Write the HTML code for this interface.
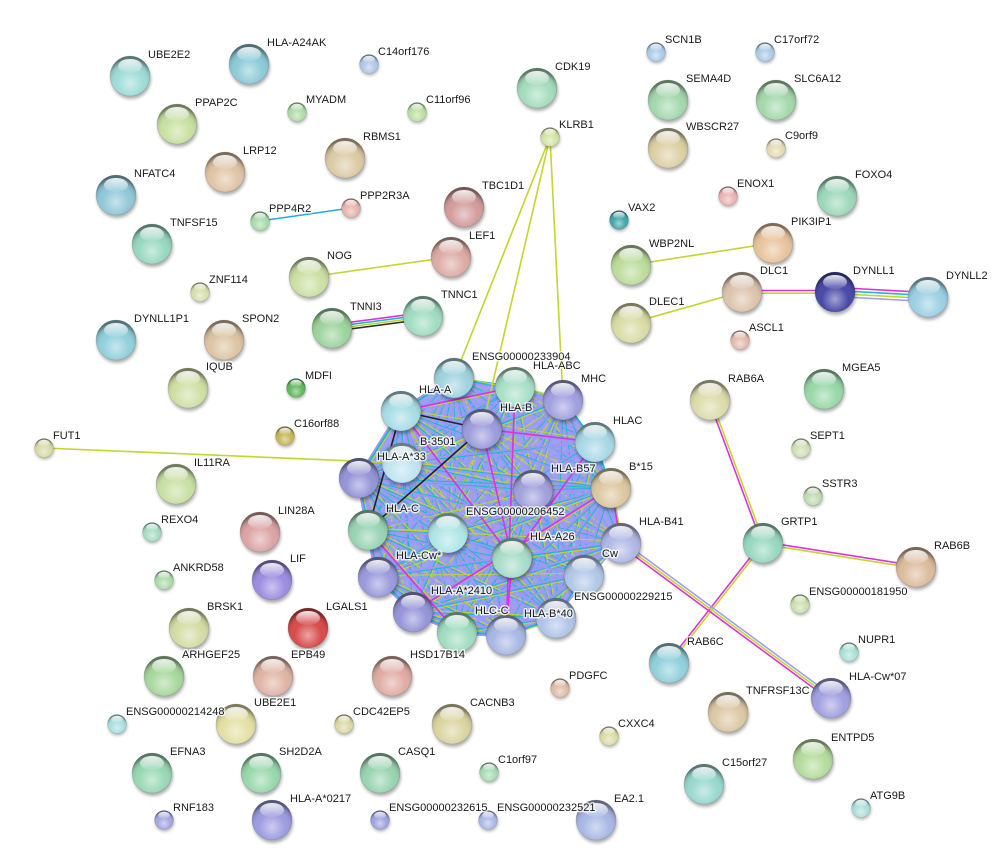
<!DOCTYPE html>
<html><head><meta charset="utf-8"><style>
html,body{margin:0;padding:0;background:#fff;}
svg{display:block;}
text{font-family:"Liberation Sans",Arial,sans-serif;font-size:11px;fill:#1a1a1a;stroke:#fff;stroke-width:3px;stroke-opacity:0.75;paint-order:stroke;stroke-linejoin:round;}
.e line{stroke-width:1.6;}
</style></head><body>
<svg width="998" height="865" viewBox="0 0 998 865" xmlns="http://www.w3.org/2000/svg" xmlns:xlink="http://www.w3.org/1999/xlink">
<defs>
<radialGradient id="shade" cx="0.5" cy="0.68" r="0.62">
<stop offset="0" stop-color="#fff" stop-opacity="0.5"/>
<stop offset="0.55" stop-color="#fff" stop-opacity="0"/>
<stop offset="0.85" stop-color="#000" stop-opacity="0.12"/>
<stop offset="1" stop-color="#000" stop-opacity="0.45"/>
</radialGradient>
<linearGradient id="hl" x1="0" y1="0" x2="0" y2="1">
<stop offset="0" stop-color="#fff" stop-opacity="0.9"/>
<stop offset="1" stop-color="#fff" stop-opacity="0.08"/>
</linearGradient>
<filter id="bl" x="-50%" y="-50%" width="200%" height="200%"><feGaussianBlur stdDeviation="1.5"/></filter>
<g id="shL"><circle cx="1" cy="3" r="20" fill="#000" opacity="0.32" filter="url(#bl)"/></g>
<g id="ovL"><circle r="20" fill="url(#shade)" stroke="#000" stroke-opacity="0.12" stroke-width="0.8"/><ellipse cy="-10" rx="12" ry="7" fill="url(#hl)"/></g>
<g id="shS"><circle cx="0.6" cy="2" r="9.5" fill="#000" opacity="0.3" filter="url(#bl)"/></g>
<g id="ovS"><circle r="9.5" fill="url(#shade)" stroke="#000" stroke-opacity="0.12" stroke-width="0.6"/><ellipse cy="-4.8" rx="5.8" ry="3.4" fill="url(#hl)"/></g>
</defs>
<rect width="998" height="865" fill="#fff"/>

<!-- cluster fallback fill -->
<polygon points="454,378 515,387 563,400 595,442 611,488 621,543 584,575 556,618 506,635 457,632 413,612 378,577 368,530 359,478 401,411" fill="#9ea2ec" stroke="#22b5d3" stroke-width="2"/>
<g id="mesh"></g>

<!-- outside edges -->
<g class="e">
<line x1="260" y1="221" x2="351" y2="208" stroke="#22b0d6"/>
<line x1="309" y1="277" x2="451" y2="257" stroke="#c4d52b"/>
<line x1="331.6" y1="324.7" x2="422.6" y2="312.7" stroke="#e030e0"/>
<line x1="331.9" y1="326.9" x2="422.9" y2="314.9" stroke="#22b5d3"/>
<line x1="332.1" y1="329.1" x2="423.1" y2="317.1" stroke="#c4d52b"/>
<line x1="332.4" y1="331.3" x2="423.4" y2="319.3" stroke="#333"/>
<line x1="550" y1="137" x2="454" y2="378" stroke="#c4d52b"/>
<line x1="550" y1="137" x2="482" y2="429" stroke="#c4d52b"/>
<line x1="550" y1="137" x2="563" y2="400" stroke="#c4d52b"/>
<line x1="44" y1="448" x2="402" y2="463" stroke="#c4d52b"/>
<line x1="631" y1="265" x2="773" y2="243" stroke="#c4d52b"/>
<line x1="631" y1="323" x2="741" y2="292" stroke="#c4d52b"/>
<line x1="741" y1="290.5" x2="835" y2="290.5" stroke="#e030e0"/>
<line x1="741" y1="293.2" x2="835" y2="293.2" stroke="#c4d52b"/>
<line x1="835" y1="287.5" x2="928" y2="292.5" stroke="#e030e0"/>
<line x1="835" y1="290.5" x2="928" y2="295.5" stroke="#22b5d3"/>
<line x1="835" y1="293.5" x2="928" y2="298.5" stroke="#c4d52b"/>
<line x1="835" y1="296.5" x2="928" y2="301.5" stroke="#9f9ff8"/>
<line x1="708.9" y1="400.4" x2="761.9" y2="543.4" stroke="#e030e0"/>
<line x1="711.1" y1="399.6" x2="764.1" y2="542.6" stroke="#c4d52b"/>
<line x1="763.2" y1="541.8" x2="916.2" y2="565.8" stroke="#e030e0"/>
<line x1="762.8" y1="544.2" x2="915.8" y2="568.2" stroke="#c4d52b"/>
<line x1="762.1" y1="542.3" x2="668.1" y2="662.3" stroke="#e030e0"/>
<line x1="763.9" y1="543.7" x2="669.9" y2="663.7" stroke="#c4d52b"/>
<line x1="622.4" y1="541.1" x2="832.4" y2="696.1" stroke="#9f9ff8"/>
<line x1="621" y1="543" x2="831" y2="698" stroke="#c4d52b"/>
<line x1="619.6" y1="544.9" x2="829.6" y2="699.9" stroke="#e030e0"/>
</g>

<!-- cluster special edges -->
<g class="e" stroke="#e030e0">
<line x1="401" y1="411" x2="515" y2="387"/>
<line x1="482" y1="429" x2="595" y2="442"/>
<line x1="515" y1="387" x2="506" y2="635"/>
<line x1="482" y1="429" x2="512" y2="558"/>
<line x1="401" y1="411" x2="512" y2="558"/>
<line x1="413" y1="612" x2="611" y2="488"/>
<line x1="595" y1="442" x2="512" y2="558"/>
<line x1="368" y1="530" x2="457" y2="632"/>
<line x1="611" y1="488" x2="621" y2="543"/>
<line x1="512" y1="558" x2="506" y2="635"/>
</g>
<g class="e" stroke="#222">
<line x1="401" y1="411" x2="482" y2="429"/>
<line x1="482" y1="429" x2="368" y2="530"/>
<line x1="401" y1="411" x2="368" y2="530"/>
</g>

<!-- large nodes -->
<g transform="translate(130,76)"><use href="#shL"/><circle r="20" fill="#9edcd8"/><use href="#ovL"/></g>
<g transform="translate(249,64)"><use href="#shL"/><circle r="20" fill="#8ccbd8"/><use href="#ovL"/></g>
<g transform="translate(177,124)"><use href="#shL"/><circle r="20" fill="#c8e0a0"/><use href="#ovL"/></g>
<g transform="translate(225,172)"><use href="#shL"/><circle r="20" fill="#e0c4a4"/><use href="#ovL"/></g>
<g transform="translate(116,195)"><use href="#shL"/><circle r="20" fill="#90c8d8"/><use href="#ovL"/></g>
<g transform="translate(152,244)"><use href="#shL"/><circle r="20" fill="#98d8c0"/><use href="#ovL"/></g>
<g transform="translate(345,158)"><use href="#shL"/><circle r="20" fill="#dccaa4"/><use href="#ovL"/></g>
<g transform="translate(464,207)"><use href="#shL"/><circle r="20" fill="#d49c9c"/><use href="#ovL"/></g>
<g transform="translate(451,257)"><use href="#shL"/><circle r="20" fill="#dcaca4"/><use href="#ovL"/></g>
<g transform="translate(309,277)"><use href="#shL"/><circle r="20" fill="#cce0a4"/><use href="#ovL"/></g>
<g transform="translate(332,328)"><use href="#shL"/><circle r="20" fill="#9cd49c"/><use href="#ovL"/></g>
<g transform="translate(423,316)"><use href="#shL"/><circle r="20" fill="#a0dcc0"/><use href="#ovL"/></g>
<g transform="translate(116,340)"><use href="#shL"/><circle r="20" fill="#90d0dc"/><use href="#ovL"/></g>
<g transform="translate(224,340)"><use href="#shL"/><circle r="20" fill="#dcc4a4"/><use href="#ovL"/></g>
<g transform="translate(188,388)"><use href="#shL"/><circle r="20" fill="#d0e0a4"/><use href="#ovL"/></g>
<g transform="translate(176,484)"><use href="#shL"/><circle r="20" fill="#c8e0a4"/><use href="#ovL"/></g>
<g transform="translate(260,532)"><use href="#shL"/><circle r="20" fill="#dca4a4"/><use href="#ovL"/></g>
<g transform="translate(272,580)"><use href="#shL"/><circle r="20" fill="#9c8ce0"/><use href="#ovL"/></g>
<g transform="translate(189,628)"><use href="#shL"/><circle r="20" fill="#d4dca4"/><use href="#ovL"/></g>
<g transform="translate(308,628)"><use href="#shL"/><circle r="20" fill="#d84a4a"/><use href="#ovL"/></g>
<g transform="translate(164,676)"><use href="#shL"/><circle r="20" fill="#a8d89c"/><use href="#ovL"/></g>
<g transform="translate(273,676)"><use href="#shL"/><circle r="20" fill="#e0b4a4"/><use href="#ovL"/></g>
<g transform="translate(392,676)"><use href="#shL"/><circle r="20" fill="#e0aca4"/><use href="#ovL"/></g>
<g transform="translate(236,724)"><use href="#shL"/><circle r="20" fill="#e4e0a4"/><use href="#ovL"/></g>
<g transform="translate(452,724)"><use href="#shL"/><circle r="20" fill="#dcd4a0"/><use href="#ovL"/></g>
<g transform="translate(152,773)"><use href="#shL"/><circle r="20" fill="#98d8b4"/><use href="#ovL"/></g>
<g transform="translate(261,773)"><use href="#shL"/><circle r="20" fill="#98d8ac"/><use href="#ovL"/></g>
<g transform="translate(380,773)"><use href="#shL"/><circle r="20" fill="#98d4b0"/><use href="#ovL"/></g>
<g transform="translate(272,820)"><use href="#shL"/><circle r="20" fill="#9c9ce0"/><use href="#ovL"/></g>
<g transform="translate(596,820)"><use href="#shL"/><circle r="20" fill="#a8b8e4"/><use href="#ovL"/></g>
<g transform="translate(704,784)"><use href="#shL"/><circle r="20" fill="#98d8d0"/><use href="#ovL"/></g>
<g transform="translate(728,712)"><use href="#shL"/><circle r="20" fill="#dcc8a4"/><use href="#ovL"/></g>
<g transform="translate(831,698)"><use href="#shL"/><circle r="20" fill="#a0a0e0"/><use href="#ovL"/></g>
<g transform="translate(813,759)"><use href="#shL"/><circle r="20" fill="#b4dc9c"/><use href="#ovL"/></g>
<g transform="translate(669,663)"><use href="#shL"/><circle r="20" fill="#90d0dc"/><use href="#ovL"/></g>
<g transform="translate(763,543)"><use href="#shL"/><circle r="20" fill="#98d8c0"/><use href="#ovL"/></g>
<g transform="translate(916,567)"><use href="#shL"/><circle r="20" fill="#dcbc9c"/><use href="#ovL"/></g>
<g transform="translate(710,400)"><use href="#shL"/><circle r="20" fill="#dcdcac"/><use href="#ovL"/></g>
<g transform="translate(824,389)"><use href="#shL"/><circle r="20" fill="#98d8a8"/><use href="#ovL"/></g>
<g transform="translate(631,323)"><use href="#shL"/><circle r="20" fill="#d8dca4"/><use href="#ovL"/></g>
<g transform="translate(742,292)"><use href="#shL"/><circle r="20" fill="#dcc4ac"/><use href="#ovL"/></g>
<g transform="translate(835,292)"><use href="#shL"/><circle r="20" fill="#4848a8"/><use href="#ovL"/></g>
<g transform="translate(928,297)"><use href="#shL"/><circle r="20" fill="#9cd0e4"/><use href="#ovL"/></g>
<g transform="translate(631,265)"><use href="#shL"/><circle r="20" fill="#bcdc9c"/><use href="#ovL"/></g>
<g transform="translate(773,243)"><use href="#shL"/><circle r="20" fill="#e8c49c"/><use href="#ovL"/></g>
<g transform="translate(837,196)"><use href="#shL"/><circle r="20" fill="#9cd8b8"/><use href="#ovL"/></g>
<g transform="translate(668,148)"><use href="#shL"/><circle r="20" fill="#dcd0a4"/><use href="#ovL"/></g>
<g transform="translate(668,100)"><use href="#shL"/><circle r="20" fill="#a4d8ac"/><use href="#ovL"/></g>
<g transform="translate(776,100)"><use href="#shL"/><circle r="20" fill="#a4d8ac"/><use href="#ovL"/></g>
<g transform="translate(537,88)"><use href="#shL"/><circle r="20" fill="#a4dcbc"/><use href="#ovL"/></g>

<!-- cluster nodes -->
<g transform="translate(454,378)"><use href="#shL"/><circle r="20" fill="#9fd3df"/><use href="#ovL"/></g>
<g transform="translate(515,387)"><use href="#shL"/><circle r="20" fill="#a8e0c8"/><use href="#ovL"/></g>
<g transform="translate(563,400)"><use href="#shL"/><circle r="20" fill="#a0a0e0"/><use href="#ovL"/></g>
<g transform="translate(401,411)"><use href="#shL"/><circle r="20" fill="#a8dde6"/><use href="#ovL"/></g>
<g transform="translate(482,429)"><use href="#shL"/><circle r="20" fill="#9c9cdc"/><use href="#ovL"/></g>
<g transform="translate(595,442)"><use href="#shL"/><circle r="20" fill="#a8d8e6"/><use href="#ovL"/></g>
<g transform="translate(402,463)"><use href="#shL"/><circle r="20" fill="#c0e4f0"/><use href="#ovL"/></g>
<g transform="translate(359,478)"><use href="#shL"/><circle r="20" fill="#9494d8"/><use href="#ovL"/></g>
<g transform="translate(533,490)"><use href="#shL"/><circle r="20" fill="#a0a0dc"/><use href="#ovL"/></g>
<g transform="translate(611,488)"><use href="#shL"/><circle r="20" fill="#dcc8a0"/><use href="#ovL"/></g>
<g transform="translate(368,530)"><use href="#shL"/><circle r="20" fill="#98d4b4"/><use href="#ovL"/></g>
<g transform="translate(448,533)"><use href="#shL"/><circle r="20" fill="#b0e6e6"/><use href="#ovL"/></g>
<g transform="translate(621,543)"><use href="#shL"/><circle r="20" fill="#b0b8e6"/><use href="#ovL"/></g>
<g transform="translate(512,558)"><use href="#shL"/><circle r="20" fill="#a8dcc8"/><use href="#ovL"/></g>
<g transform="translate(378,577)"><use href="#shL"/><circle r="20" fill="#9a9adc"/><use href="#ovL"/></g>
<g transform="translate(584,575)"><use href="#shL"/><circle r="20" fill="#b0c8e6"/><use href="#ovL"/></g>
<g transform="translate(413,612)"><use href="#shL"/><circle r="20" fill="#9494d8"/><use href="#ovL"/></g>
<g transform="translate(556,618)"><use href="#shL"/><circle r="20" fill="#b0c4e8"/><use href="#ovL"/></g>
<g transform="translate(457,632)"><use href="#shL"/><circle r="20" fill="#a0dcc0"/><use href="#ovL"/></g>
<g transform="translate(506,635)"><use href="#shL"/><circle r="20" fill="#a8b8e4"/><use href="#ovL"/></g>

<!-- small nodes -->
<g transform="translate(369,64)"><use href="#shS"/><circle r="9.5" fill="#b0c8e8"/><use href="#ovS"/></g>
<g transform="translate(297,112)"><use href="#shS"/><circle r="9.5" fill="#b0dca8"/><use href="#ovS"/></g>
<g transform="translate(417,112)"><use href="#shS"/><circle r="9.5" fill="#bce0a4"/><use href="#ovS"/></g>
<g transform="translate(260,221)"><use href="#shS"/><circle r="9.5" fill="#a8dca8"/><use href="#ovS"/></g>
<g transform="translate(351,208)"><use href="#shS"/><circle r="9.5" fill="#e8b4ac"/><use href="#ovS"/></g>
<g transform="translate(200,292)"><use href="#shS"/><circle r="9.5" fill="#d8e0ac"/><use href="#ovS"/></g>
<g transform="translate(296,388)"><use href="#shS"/><circle r="9.5" fill="#60b860"/><use href="#ovS"/></g>
<g transform="translate(285,436)"><use href="#shS"/><circle r="9.5" fill="#c4b858"/><use href="#ovS"/></g>
<g transform="translate(44,448)"><use href="#shS"/><circle r="9.5" fill="#d8dca4"/><use href="#ovS"/></g>
<g transform="translate(152,532)"><use href="#shS"/><circle r="9.5" fill="#a8dcc4"/><use href="#ovS"/></g>
<g transform="translate(164,580)"><use href="#shS"/><circle r="9.5" fill="#acdcac"/><use href="#ovS"/></g>
<g transform="translate(117,724)"><use href="#shS"/><circle r="9.5" fill="#a8e0e0"/><use href="#ovS"/></g>
<g transform="translate(344,724)"><use href="#shS"/><circle r="9.5" fill="#dcd8a4"/><use href="#ovS"/></g>
<g transform="translate(489,772)"><use href="#shS"/><circle r="9.5" fill="#a8dcb4"/><use href="#ovS"/></g>
<g transform="translate(164,820)"><use href="#shS"/><circle r="9.5" fill="#a4a8e0"/><use href="#ovS"/></g>
<g transform="translate(380,820)"><use href="#shS"/><circle r="9.5" fill="#a0a4e0"/><use href="#ovS"/></g>
<g transform="translate(488,820)"><use href="#shS"/><circle r="9.5" fill="#acb8e8"/><use href="#ovS"/></g>
<g transform="translate(560,688)"><use href="#shS"/><circle r="9.5" fill="#e0bca4"/><use href="#ovS"/></g>
<g transform="translate(609,736)"><use href="#shS"/><circle r="9.5" fill="#dcdca4"/><use href="#ovS"/></g>
<g transform="translate(861,808)"><use href="#shS"/><circle r="9.5" fill="#ace0dc"/><use href="#ovS"/></g>
<g transform="translate(849,652)"><use href="#shS"/><circle r="9.5" fill="#ace0d8"/><use href="#ovS"/></g>
<g transform="translate(800,604)"><use href="#shS"/><circle r="9.5" fill="#cce0ac"/><use href="#ovS"/></g>
<g transform="translate(813,496)"><use href="#shS"/><circle r="9.5" fill="#c0dcb0"/><use href="#ovS"/></g>
<g transform="translate(801,448)"><use href="#shS"/><circle r="9.5" fill="#d0e0b4"/><use href="#ovS"/></g>
<g transform="translate(740,340)"><use href="#shS"/><circle r="9.5" fill="#e4bcac"/><use href="#ovS"/></g>
<g transform="translate(728,196)"><use href="#shS"/><circle r="9.5" fill="#ecb4b4"/><use href="#ovS"/></g>
<g transform="translate(619,220)"><use href="#shS"/><circle r="9.5" fill="#44a8a8"/><use href="#ovS"/></g>
<g transform="translate(776,148)"><use href="#shS"/><circle r="9.5" fill="#e4dcb4"/><use href="#ovS"/></g>
<g transform="translate(656,52)"><use href="#shS"/><circle r="9.5" fill="#accce8"/><use href="#ovS"/></g>
<g transform="translate(765,52)"><use href="#shS"/><circle r="9.5" fill="#accce8"/><use href="#ovS"/></g>
<g transform="translate(550,137)"><use href="#shS"/><circle r="9.5" fill="#d4e4a4"/><use href="#ovS"/></g>

<!-- labels large -->
<text x="148" y="58">UBE2E2</text>
<text x="267" y="46">HLA-A24AK</text>
<text x="195" y="106">PPAP2C</text>
<text x="243" y="154">LRP12</text>
<text x="134" y="177">NFATC4</text>
<text x="170" y="226">TNFSF15</text>
<text x="363" y="140">RBMS1</text>
<text x="482" y="189">TBC1D1</text>
<text x="469" y="239">LEF1</text>
<text x="327" y="259">NOG</text>
<text x="350" y="310">TNNI3</text>
<text x="441" y="298">TNNC1</text>
<text x="134" y="322">DYNLL1P1</text>
<text x="242" y="322">SPON2</text>
<text x="206" y="370">IQUB</text>
<text x="194" y="466">IL11RA</text>
<text x="278" y="514">LIN28A</text>
<text x="290" y="562">LIF</text>
<text x="207" y="610">BRSK1</text>
<text x="326" y="610">LGALS1</text>
<text x="182" y="658">ARHGEF25</text>
<text x="291" y="658">EPB49</text>
<text x="410" y="658">HSD17B14</text>
<text x="254" y="706">UBE2E1</text>
<text x="470" y="706">CACNB3</text>
<text x="170" y="755">EFNA3</text>
<text x="279" y="755">SH2D2A</text>
<text x="398" y="755">CASQ1</text>
<text x="290" y="802">HLA-A*0217</text>
<text x="614" y="802">EA2.1</text>
<text x="722" y="766">C15orf27</text>
<text x="746" y="694">TNFRSF13C</text>
<text x="849" y="680">HLA-Cw*07</text>
<text x="831" y="741">ENTPD5</text>
<text x="687" y="645">RAB6C</text>
<text x="781" y="525">GRTP1</text>
<text x="934" y="549">RAB6B</text>
<text x="728" y="382">RAB6A</text>
<text x="842" y="371">MGEA5</text>
<text x="649" y="305">DLEC1</text>
<text x="760" y="274">DLC1</text>
<text x="853" y="274">DYNLL1</text>
<text x="946" y="279">DYNLL2</text>
<text x="649" y="247">WBP2NL</text>
<text x="791" y="225">PIK3IP1</text>
<text x="855" y="178">FOXO4</text>
<text x="686" y="130">WBSCR27</text>
<text x="686" y="82">SEMA4D</text>
<text x="794" y="82">SLC6A12</text>
<text x="555" y="70">CDK19</text>

<!-- cluster labels -->
<text x="472" y="360">ENSG00000233904</text>
<text x="533" y="369">HLA-ABC</text>
<text x="581" y="382">MHC</text>
<text x="419" y="393">HLA-A</text>
<text x="500" y="411">HLA-B</text>
<text x="613" y="424">HLAC</text>
<text x="420" y="445">B-3501</text>
<text x="377" y="460">HLA-A*33</text>
<text x="551" y="472">HLA-B57</text>
<text x="629" y="470">B*15</text>
<text x="386" y="512">HLA-C</text>
<text x="466" y="515">ENSG00000206452</text>
<text x="639" y="525">HLA-B41</text>
<text x="530" y="540">HLA-A26</text>
<text x="396" y="559">HLA-Cw*</text>
<text x="602" y="557">Cw</text>
<text x="431" y="594">HLA-A*2410</text>
<text x="574" y="600">ENSG00000229215</text>
<text x="475" y="614">HLC-C</text>
<text x="524" y="617">HLA-B*40</text>

<!-- labels small -->
<text x="378" y="55">C14orf176</text>
<text x="306" y="103">MYADM</text>
<text x="426" y="103">C11orf96</text>
<text x="269" y="212">PPP4R2</text>
<text x="360" y="199">PPP2R3A</text>
<text x="209" y="283">ZNF114</text>
<text x="305" y="379">MDFI</text>
<text x="294" y="427">C16orf88</text>
<text x="53" y="439">FUT1</text>
<text x="161" y="523">REXO4</text>
<text x="173" y="571">ANKRD58</text>
<text x="126" y="715">ENSG00000214248</text>
<text x="353" y="715">CDC42EP5</text>
<text x="498" y="763">C1orf97</text>
<text x="173" y="811">RNF183</text>
<text x="389" y="811">ENSG00000232615</text>
<text x="497" y="811">ENSG00000232521</text>
<text x="569" y="679">PDGFC</text>
<text x="618" y="727">CXXC4</text>
<text x="870" y="799">ATG9B</text>
<text x="858" y="643">NUPR1</text>
<text x="809" y="595">ENSG00000181950</text>
<text x="822" y="487">SSTR3</text>
<text x="810" y="439">SEPT1</text>
<text x="749" y="331">ASCL1</text>
<text x="737" y="187">ENOX1</text>
<text x="628" y="211">VAX2</text>
<text x="785" y="139">C9orf9</text>
<text x="665" y="43">SCN1B</text>
<text x="774" y="43">C17orf72</text>
<text x="559" y="128">KLRB1</text>
</svg>
<script>
(function(){
var P=[[454,378],[515,387],[563,400],[401,411],[482,429],[595,442],[402,463],[359,478],[533,490],[611,488],[368,530],[448,533],[621,543],[512,558],[378,577],[584,575],[413,612],[556,618],[457,632],[506,635]];
var cols=['#c4d52b','#22b5d3','#9a9af6'];
var offs=[-1.6,0,1.6];
var NS='http://www.w3.org/2000/svg';
var g=document.getElementById('mesh');
var seed=7;
function rnd(){seed=(seed*9301+49297)%233280;return seed/233280;}
var n=P.length;
for(var i=0;i!==n;i++){for(var j=i+1;j!==n;j++){
var dx=P[j][0]-P[i][0],dy=P[j][1]-P[i][1],L=Math.sqrt(dx*dx+dy*dy),nx=-dy/L,ny=dx/L;
for(var k=0;k!==3;k++){
if(k===0&&rnd()>0.4)continue;
if(k===1&&rnd()>0.6)continue;
var o=offs[k];
var l=document.createElementNS(NS,'line');
l.setAttribute('x1',(P[i][0]+nx*o).toFixed(1));
l.setAttribute('y1',(P[i][1]+ny*o).toFixed(1));
l.setAttribute('x2',(P[j][0]+nx*o).toFixed(1));
l.setAttribute('y2',(P[j][1]+ny*o).toFixed(1));
l.setAttribute('stroke',cols[k]);
l.setAttribute('stroke-width',k===2?'1.7':'1');
g.appendChild(l);
}}}
})();
</script>
</body></html>
